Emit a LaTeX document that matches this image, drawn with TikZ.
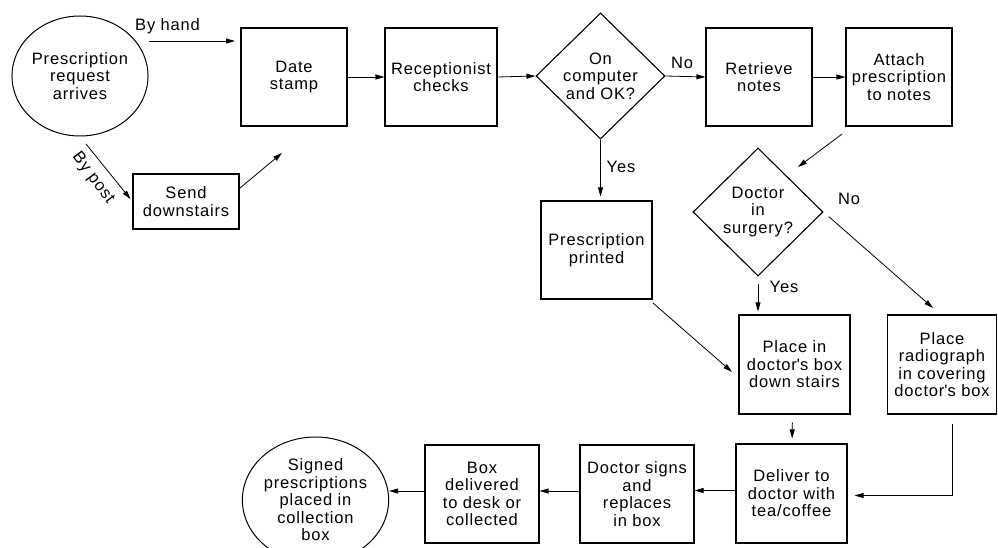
\documentclass[tikz,border=0pt]{standalone}
\usepackage{fontspec}
\setmainfont{Liberation Sans}[LetterSpace=5]
\usetikzlibrary{arrows.meta,shapes.geometric,calc}

\tikzset{
  lbl/.style={font=\fontsize{16.5}{17.5}\selectfont, align=center, inner sep=0pt},
  stepbox/.style={lbl, draw, line width=1.1pt, rectangle},
  decision/.style={lbl, draw, line width=1.1pt, diamond, aspect=1},
  terminal/.style={lbl, draw, line width=1pt, ellipse},
  flow/.style={line width=0.8pt, -{Triangle[length=9pt,width=5pt]}},
  tag/.style={font=\fontsize{16.5}{17.5}\selectfont, inner sep=0pt}
}

\begin{document}
\begin{tikzpicture}[x=1pt,y=-1pt]
\useasboundingbox (0,0) rectangle (998,548);

% start and end points
\node[terminal, minimum width=134pt, minimum height=120pt] (req) at (80,76) {Prescription\\request\\arrives};
\node[terminal, minimum width=133pt, minimum height=126pt] (signed) at (315.5,500) {Signed\\prescriptions\\placed in\\collection\\box};

% top row
\node[stepbox, minimum width=106pt, minimum height=98pt] (date) at (294,77) {Date\\stamp};
\node[stepbox, minimum width=112pt, minimum height=98pt] (recept) at (441,77) {Receptionist\\checks};
\node[decision, minimum width=129pt, minimum height=126pt] (q1) at (600.5,76) {On\\computer\\and OK?};
\node[stepbox, minimum width=106pt, minimum height=98pt] (retrieve) at (759,77) {Retrieve\\notes};
\node[stepbox, minimum width=106pt, minimum height=98pt] (attach) at (899,77) {Attach\\prescription\\to notes};

% postal branch
\node[stepbox, minimum width=106pt, minimum height=55pt] (send) at (186,201.5) {Send\\downstairs};

% middle
\node[stepbox, minimum width=111pt, minimum height=98pt] (printed) at (596.5,250) {Prescription\\printed};
\node[decision, minimum width=130pt, minimum height=128pt] (q2) at (758,212) {Doctor\\in\\surgery?};
\node[stepbox, minimum width=111pt, minimum height=99pt] (place) at (794.5,364.5) {Place in\\doctor\textquotesingle s box\\down stairs};
\node[stepbox, minimum width=109pt, minimum height=99pt] (radio) at (942,364.5) {Place\\radiograph\\in covering\\doctor\textquotesingle s box};

% bottom row
\node[stepbox, minimum width=111pt, minimum height=99pt] (deliver) at (791.5,493.5) {Deliver to\\doctor with\\tea/coffee};
\node[stepbox, minimum width=114pt, minimum height=98pt] (signs) at (637,494) {Doctor signs\\and\\replaces\\in box};
\node[stepbox, minimum width=114pt, minimum height=98pt] (boxdel) at (482,494) {Box\\delivered\\to desk or\\collected};

% free ends of the detached arrows
\coordinate (handA) at (149,41);
\coordinate (handB) at (235,41);
\coordinate (postA) at (86,144);
\coordinate (upA) at (240,188);
\coordinate (upB) at (282,153);
\coordinate (attA) at (842,134);
\coordinate (attB) at (798,167);
\coordinate (noB) at (933,308);
\coordinate (prA) at (653,303);
\coordinate (prB) at (732,372);

% connectors
\draw[flow] (handA) -- (handB);
\node[tag, anchor=south west] (byhand) at (135,34) {By hand};
\draw[flow, shorten >=3pt] (postA) -- (send.west);
\node[tag, rotate=-53] (bypost) at (93,178) {By post};
\draw[flow] (upA) -- (upB);
\draw[flow] (date.east) -- (recept.west);
\draw[flow] (recept.east) -- (q1.west);
\draw[flow] (q1.east) -- (retrieve.west);
\node[tag] (no1) at (682,63) {No};
\draw[flow] (retrieve.east) -- (attach.west);
\draw[flow] (attA) -- (attB);
\draw[flow, shorten >=4pt] (q1.south) -- (q1.south |- printed.north);
\node[tag] (yes1) at (621,167) {Yes};
\draw[flow, shorten <=7pt, shorten >=3pt] (q2.south) -- (q2.south |- place.north);
\node[tag] (yes2) at (784,287) {Yes};
\draw[flow, shorten <=7pt] (q2.east) -- (noB);
\node[tag] (no2) at (849,199) {No};
\draw[flow] (prA) -- (prB);
\draw[flow, shorten <=8pt, shorten >=5pt] ([xshift=-2pt]place.south) -- ([xshift=0.5pt]deliver.north);
\draw[flow, shorten <=9pt, shorten >=7pt] ([xshift=10pt]radio.south) |- ([yshift=-2pt]deliver.east);
\draw[flow] ([yshift=3pt]deliver.west) -- ([yshift=3pt]signs.east |- deliver.west);
\draw[flow] ([yshift=3pt]signs.west) -- ([yshift=3pt]boxdel.east);
\draw[flow] ([yshift=3pt]boxdel.west) -- ([yshift=3pt]boxdel.west -| signed.east);
\end{tikzpicture}
\end{document}
